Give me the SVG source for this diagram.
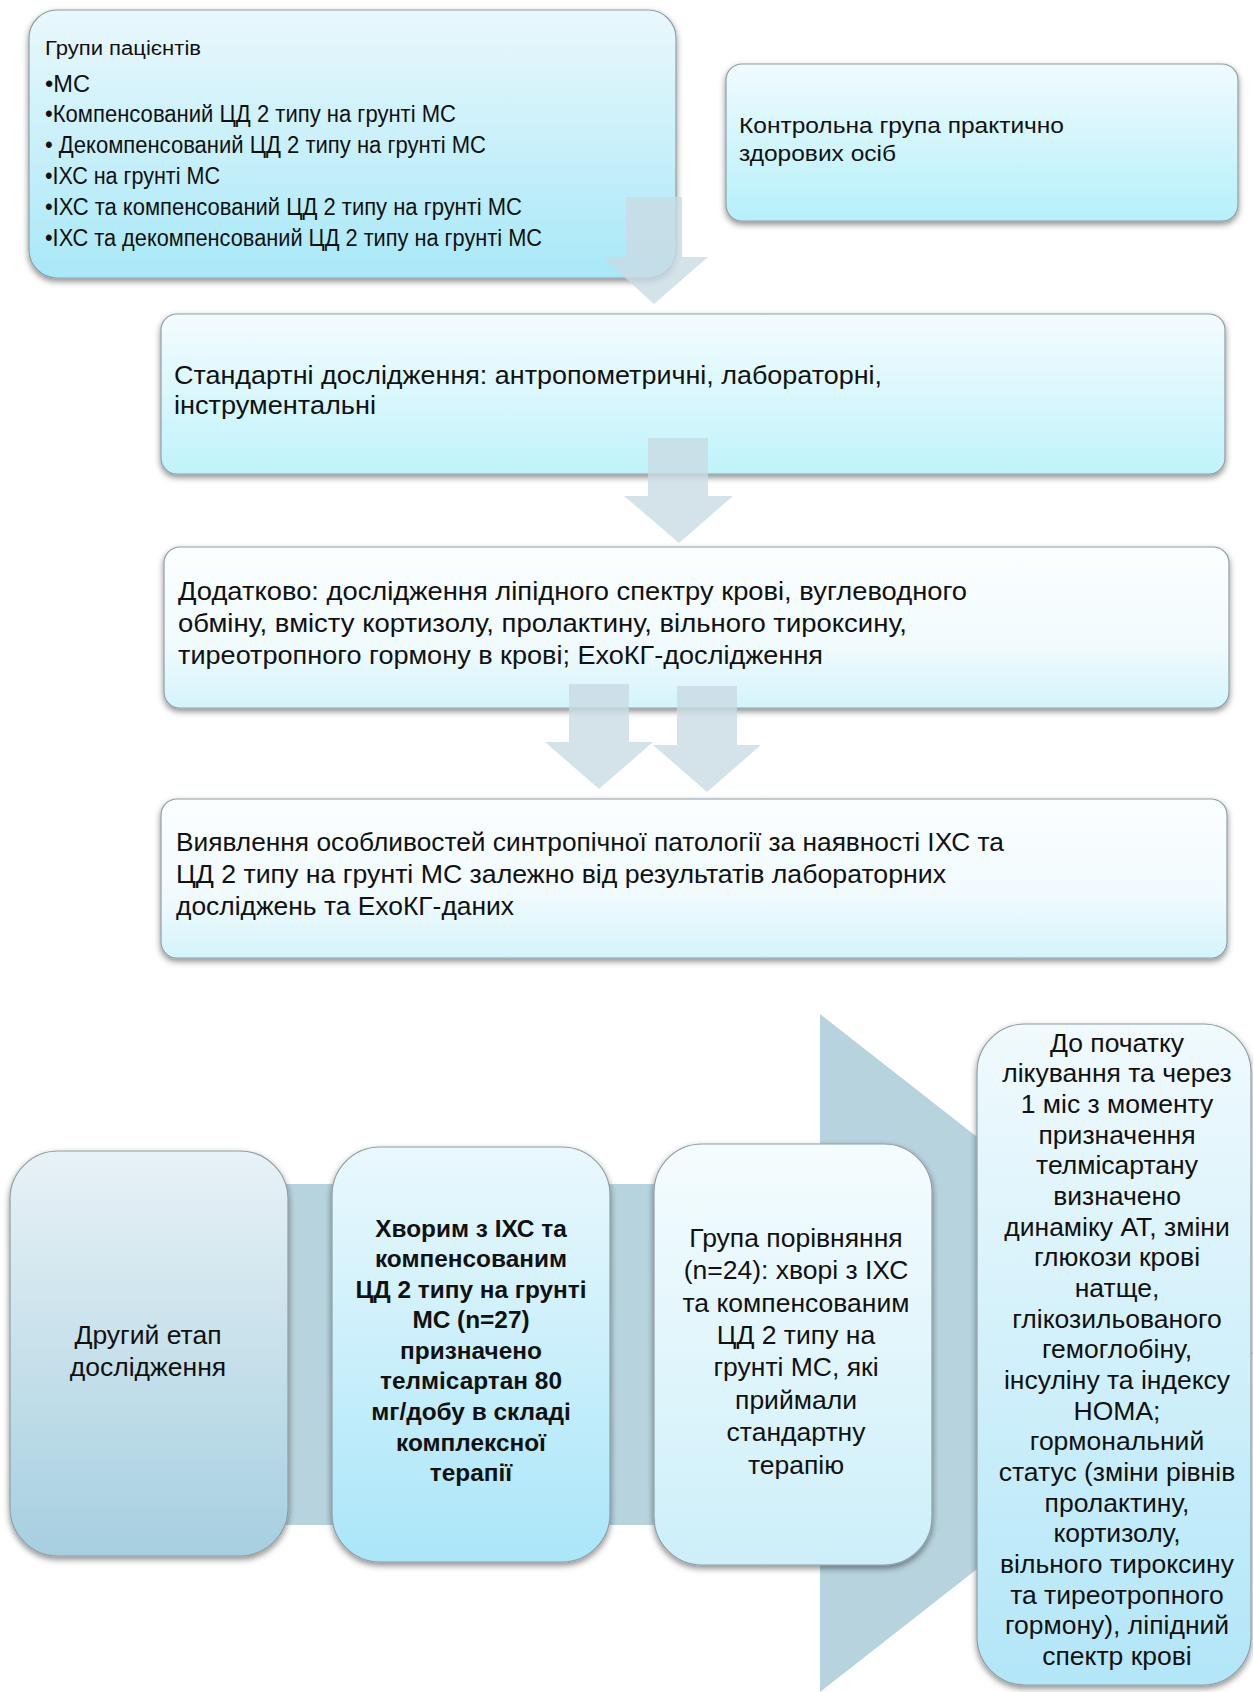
<svg xmlns="http://www.w3.org/2000/svg" width="1253" height="1692" viewBox="0 0 1253 1692">
<style>
.t{font-family:"Liberation Sans","Noto Sans",sans-serif;fill:#111;}
.tc{font-family:"Liberation Sans","Noto Sans",sans-serif;fill:#111;text-anchor:middle;font-size:26.5px;}
.b{font-weight:bold;font-size:24.4px;}
.box{stroke:#8f9ea5;stroke-width:1.2;filter:url(#sh);}
.arr{fill:#c9dbe4;fill-opacity:0.8;}
</style>
<defs>
<filter id="sh" x="-10%" y="-10%" width="120%" height="130%">
<feDropShadow dx="0" dy="3" stdDeviation="3" flood-color="#000" flood-opacity="0.45"/>
</filter>
<linearGradient id="g1" x1="0" y1="0" x2="0" y2="1"><stop offset="0" stop-color="#eaf8fc"/><stop offset="1" stop-color="#a8e8f8"/></linearGradient>
<linearGradient id="g2" x1="0" y1="0" x2="0" y2="1"><stop offset="0" stop-color="#f0fbfe"/><stop offset="1" stop-color="#b5f0fa"/></linearGradient>
<linearGradient id="g3" x1="0" y1="0" x2="0" y2="1"><stop offset="0" stop-color="#f4fcfe"/><stop offset="1" stop-color="#bff3fb"/></linearGradient>
<linearGradient id="g4" x1="0" y1="0" x2="0" y2="1"><stop offset="0" stop-color="#fbfeff"/><stop offset="0.6" stop-color="#f1fbfe"/><stop offset="1" stop-color="#d3f4fb"/></linearGradient>
<linearGradient id="gb1" x1="0" y1="0" x2="0" y2="1"><stop offset="0" stop-color="#e8f2f6"/><stop offset="1" stop-color="#a6cfe0"/></linearGradient>
<linearGradient id="gb2" x1="0" y1="0" x2="0" y2="1"><stop offset="0" stop-color="#eaf8fd"/><stop offset="1" stop-color="#aae6f9"/></linearGradient>
<linearGradient id="gb3" x1="0" y1="0" x2="0" y2="1"><stop offset="0" stop-color="#f5fcfe"/><stop offset="1" stop-color="#cdeff9"/></linearGradient>
<linearGradient id="gb4" x1="0" y1="0" x2="0" y2="1"><stop offset="0" stop-color="#f1fafd"/><stop offset="1" stop-color="#b2e6f8"/></linearGradient>
</defs>
<rect width="1253" height="1692" fill="#fff"/>

<g id="big-arrow">
<polygon points="16,1184 820,1184 820,1014 1253,1353 820,1692 820,1525 16,1525" fill="#b7d3de"/>
</g>

<g id="n1">
<rect class="box" x="29" y="10" width="647" height="268" rx="28" fill="url(#g1)"/>
<text class="t" x="45" y="55" font-size="20" textLength="156" lengthAdjust="spacingAndGlyphs">Групи пацієнтів</text>
<text class="t" x="45" y="92" font-size="23" textLength="45" lengthAdjust="spacingAndGlyphs">•МС</text>
<text class="t" x="45" y="122" font-size="23" textLength="411" lengthAdjust="spacingAndGlyphs">•Компенсований ЦД 2 типу на грунті МС</text>
<text class="t" x="45" y="153" font-size="23" textLength="441" lengthAdjust="spacingAndGlyphs">• Декомпенсований ЦД 2 типу на грунті МС</text>
<text class="t" x="45" y="184" font-size="23" textLength="175" lengthAdjust="spacingAndGlyphs">•ІХС на грунті МС</text>
<text class="t" x="45" y="215" font-size="23" textLength="477" lengthAdjust="spacingAndGlyphs">•ІХС та компенсований ЦД  2 типу на грунті МС</text>
<text class="t" x="45" y="246" font-size="23" textLength="497" lengthAdjust="spacingAndGlyphs">•ІХС та декомпенсований ЦД 2 типу на грунті МС</text>
</g>

<g id="n2">
<rect class="box" x="726" y="64" width="512" height="157" rx="16" fill="url(#g2)"/>
<text class="t" x="739" y="133" font-size="22" textLength="325" lengthAdjust="spacingAndGlyphs">Контрольна група практично</text>
<text class="t" x="739" y="161" font-size="22" textLength="157" lengthAdjust="spacingAndGlyphs">здорових осіб</text>
</g>

<g id="n3">
<rect class="box" x="161" y="314" width="1064" height="160" rx="16" fill="url(#g3)"/>
<text class="t" x="174" y="384" font-size="25" textLength="708" lengthAdjust="spacingAndGlyphs">Стандартні дослідження: антропометричні, лабораторні,</text>
<text class="t" x="174" y="414" font-size="25" textLength="202" lengthAdjust="spacingAndGlyphs">інструментальні</text>
</g>

<g id="n4">
<rect class="box" x="164" y="547" width="1065" height="161" rx="16" fill="url(#g4)"/>
<text class="t" x="178" y="600" font-size="25" textLength="789" lengthAdjust="spacingAndGlyphs">Додатково: дослідження ліпідного спектру крові, вуглеводного</text>
<text class="t" x="178" y="632" font-size="25" textLength="729" lengthAdjust="spacingAndGlyphs">обміну, вмісту кортизолу, пролактину, вільного тироксину,</text>
<text class="t" x="178" y="664" font-size="25" textLength="645" lengthAdjust="spacingAndGlyphs">тиреотропного гормону в крові; ЕхоКГ-дослідження</text>
</g>

<g id="n5">
<rect class="box" x="161" y="799" width="1066" height="159" rx="16" fill="url(#g4)"/>
<text class="t" x="176" y="851" font-size="25" textLength="828" lengthAdjust="spacingAndGlyphs">Виявлення особливостей синтропічної патології за наявності ІХС та</text>
<text class="t" x="176" y="883" font-size="25" textLength="770" lengthAdjust="spacingAndGlyphs">ЦД 2 типу на грунті МС залежно від результатів лабораторних</text>
<text class="t" x="176" y="915" font-size="25" textLength="338" lengthAdjust="spacingAndGlyphs">досліджень та ЕхоКГ-даних</text>
</g>

<g id="b1">
<rect class="box" x="10" y="1151" width="278" height="405" rx="48" fill="url(#gb1)"/>
<text class="tc" x="148" y="1344" font-size="27">Другий етап</text>
<text class="tc" x="148" y="1376" font-size="27">дослідження</text>
</g>

<g id="b2">
<rect class="box" x="332" y="1147" width="278" height="415" rx="48" fill="url(#gb2)"/>
<text class="tc b" x="471" y="1237">Хворим з ІХС та</text>
<text class="tc b" x="471" y="1267">компенсованим</text>
<text class="tc b" x="471" y="1298">ЦД 2 типу на грунті</text>
<text class="tc b" x="471" y="1328">МС (n=27)</text>
<text class="tc b" x="471" y="1359">призначено</text>
<text class="tc b" x="471" y="1389">телмісартан 80</text>
<text class="tc b" x="471" y="1420">мг/добу в складі</text>
<text class="tc b" x="471" y="1451">комплексної</text>
<text class="tc b" x="471" y="1481">терапії</text>
</g>

<g id="b3">
<rect class="box" x="654" y="1144" width="278" height="421" rx="48" fill="url(#gb3)"/>
<text class="tc" x="796" y="1247">Група порівняння</text>
<text class="tc" x="796" y="1279">(n=24): хворі з ІХС</text>
<text class="tc" x="796" y="1312">та компенсованим</text>
<text class="tc" x="796" y="1344">ЦД 2 типу на</text>
<text class="tc" x="796" y="1376">грунті МС, які</text>
<text class="tc" x="796" y="1409">приймали</text>
<text class="tc" x="796" y="1441">стандартну</text>
<text class="tc" x="796" y="1474">терапію</text>
</g>

<g id="b4">
<rect class="box" x="977" y="1024" width="274" height="661" rx="48" fill="url(#gb4)"/>
<text class="tc" x="1117" y="1052">До початку</text>
<text class="tc" x="1117" y="1082">лікування та через</text>
<text class="tc" x="1117" y="1113">1 міс з моменту</text>
<text class="tc" x="1117" y="1144">призначення</text>
<text class="tc" x="1117" y="1174">телмісартану</text>
<text class="tc" x="1117" y="1205">визначено</text>
<text class="tc" x="1117" y="1236">динаміку АТ, зміни</text>
<text class="tc" x="1117" y="1266">глюкози крові</text>
<text class="tc" x="1117" y="1297">натще,</text>
<text class="tc" x="1117" y="1328">глікозильованого</text>
<text class="tc" x="1117" y="1358">гемоглобіну,</text>
<text class="tc" x="1117" y="1389">інсуліну та індексу</text>
<text class="tc" x="1117" y="1420">HOMA;</text>
<text class="tc" x="1117" y="1450">гормональний</text>
<text class="tc" x="1117" y="1481">статус (зміни рівнів</text>
<text class="tc" x="1117" y="1512">пролактину,</text>
<text class="tc" x="1117" y="1542">кортизолу,</text>
<text class="tc" x="1117" y="1573">вільного тироксину</text>
<text class="tc" x="1117" y="1604">та тиреотропного</text>
<text class="tc" x="1117" y="1634">гормону), ліпідний</text>
<text class="tc" x="1117" y="1665">спектр крові</text>
</g>

<g id="connectors">
<polygon class="arr" points="626,197 682,197 682,257 708,257 654,304 602,257 626,257"/>
<polygon class="arr" points="648,438 708,438 708,496 733,496 679,543 624,496 648,496"/>
<polygon class="arr" points="569,684 629,684 629,742 653,742 599,789 545,742 569,742"/>
<polygon class="arr" points="677,686 737,686 737,745 761,745 707,792 653,745 677,745"/>
</g>
</svg>
